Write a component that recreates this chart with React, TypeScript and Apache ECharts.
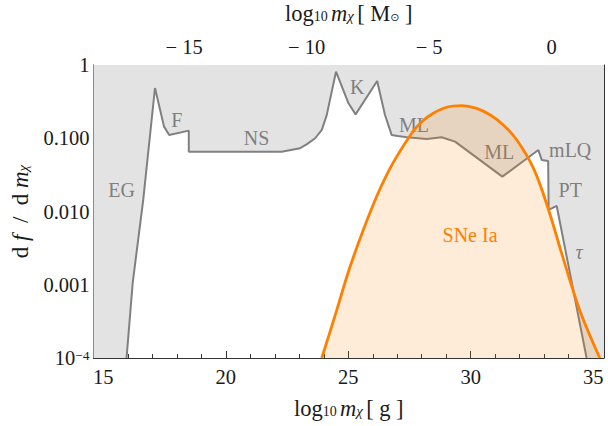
import React, { useEffect, useRef } from "react";
import * as echarts from "echarts";

// ---- data ----
const X_MIN = 14.6;
const X_MAX = 35.44;
const MSUN_LOG = 33.3; // log10 of a solar mass in grams

// upper envelope of constraints (gray line)
const grayX = [15.95, 16.2, 16.63, 17.11, 17.48, 17.69, 18.49, 18.49, 22.28, 23.03, 23.3, 23.65, 23.92, 24.12, 24.5, 25.01, 25.3, 26.18, 26.5, 26.77, 27.02, 27.52, 28.2, 28.81, 29.36, 31.29, 32.21, 32.76, 32.9, 33.16, 33.18, 33.51, 34.73];
const grayY = [1e-4, 0.00106, 0.0144, 0.485, 0.144, 0.111, 0.127, 0.0656, 0.0656, 0.073, 0.0826, 0.1, 0.13, 0.207, 0.81, 0.3, 0.212, 0.605, 0.208, 0.111, 0.107, 0.102, 0.098, 0.103, 0.0898, 0.0299, 0.0505, 0.069, 0.0505, 0.049, 0.0105, 0.0119, 1e-4];

// SNe Ia distribution (orange)
const snX = [23.92, 24.53, 25.07, 25.96, 26.71, 27.59, 28.0, 28.47, 29.02, 29.63, 30.24, 30.8, 31.33, 31.88, 32.56, 33.16, 33.71, 34.45, 35.27];
const snY = [1e-4, 0.00045, 0.00175, 0.0111, 0.039, 0.117, 0.168, 0.219, 0.265, 0.278, 0.256, 0.208, 0.152, 0.0946, 0.039, 0.011, 0.0027, 0.00045, 1e-4];

// region labels
const labelNames = ["EG", "F", "NS", "K", "ML", "ML", "mLQ", "PT", "τ"];
const labelItalic = [false, false, false, false, false, false, false, false, true];
const labelX = [15.75, 18.0, 21.26, 25.37, 27.68, 31.16, 34.06, 34.06, 34.42];
const labelY = [0.0197, 0.177, 0.1, 0.496, 0.152, 0.0655, 0.069, 0.0197, 0.00283];
const snLabel = ["SNe Ia"];
const snLabelX = [29.97];
const snLabelY = [0.00478];

// ticks
const xMajor = [15, 20, 25, 30, 35];
const xMinor = [15, 16, 17, 18, 19, 20, 21, 22, 23, 24, 25, 26, 27, 28, 29, 30, 31, 32, 33, 34, 35];
const topMajor = [-15, -10, -5, 0];
const topMinor = [-18, -17, -16, -15, -14, -13, -12, -11, -10, -9, -8, -7, -6, -5, -4, -3, -2, -1, 0, 1, 2];
const yMajor = [1e-4, 1e-3, 1e-2, 1e-1, 1];
const yTickLabels = ["{n|10}{sup|−4}", "0.001", "0.010", "0.100", "1"];
const yMinor = [2e-4, 3e-4, 4e-4, 5e-4, 6e-4, 7e-4, 8e-4, 9e-4, 2e-3, 3e-3, 4e-3, 5e-3, 6e-3, 7e-3, 8e-3, 9e-3, 0.02, 0.03, 0.04, 0.05, 0.06, 0.07, 0.08, 0.09, 0.2, 0.3, 0.4, 0.5, 0.6, 0.7, 0.8, 0.9];

const SERIF = "'Liberation Serif', 'Times New Roman', 'DejaVu Serif', serif";
const FRAME = "#333333";
const TXT = "#1a1a1a";
const TICK_FS = 20.5;

const nameRich = (fs: number) => ({
  a: { fontFamily: SERIF, fontSize: fs, color: TXT, lineHeight: 20 },
  i: { fontFamily: SERIF, fontSize: fs, fontStyle: "italic", color: TXT, lineHeight: 20 },
  b: { fontFamily: SERIF, fontSize: 14, color: TXT, lineHeight: 10, verticalAlign: "bottom" },
  o: { fontFamily: "'DejaVu Sans', sans-serif", fontSize: 11, color: TXT, lineHeight: 10, verticalAlign: "bottom" },
  c: { fontFamily: SERIF, fontSize: 15, fontStyle: "italic", color: TXT, lineHeight: 10, verticalAlign: "bottom" },
});

const textSeries = (names: string[], italic: boolean[], xs: number[], ys: number[], color: string, fs: number, z: number) => ({
  type: "custom",
  z,
  xAxisIndex: 0,
  yAxisIndex: 0,
  clip: false,
  silent: true,
  data: xs.map((x, k) => [x, ys[k]]),
  renderItem: (params: any, api: any) => {
    const p = api.coord([api.value(0), api.value(1)]);
    return {
      type: "text",
      x: p[0],
      y: p[1],
      style: {
        text: names[params.dataIndex],
        fill: color,
        fontSize: fs,
        fontFamily: SERIF,
        fontStyle: italic[params.dataIndex] ? "italic" : "normal",
        align: "center",
        verticalAlign: "middle",
      },
    };
  },
});

export default function App() {
  const ref = useRef<HTMLDivElement>(null);
  useEffect(() => {
    if (!ref.current) return;
    const chart = echarts.init(ref.current, null, { renderer: "svg" });
    const grayLine = grayX.map((x, k) => [x, grayY[k]]);
    const grayFill = [[X_MIN, 1e-4], ...grayLine, [X_MAX, 1e-4]];
    const sn = snX.map((x, k) => [x, snY[k]]);
    const tickStyle = { color: FRAME, width: 1 };
    const majorX = (pos: string, vals: number[], min: number, max: number, name: string, gap: number) => ({
      type: "value",
      position: pos,
      min,
      max,
      axisLine: { show: true, onZero: false, lineStyle: tickStyle },
      axisTick: { show: true, inside: true, length: 7, customValues: vals, lineStyle: tickStyle },
      axisLabel: {
        show: true,
        customValues: vals,
        fontFamily: SERIF,
        fontSize: TICK_FS,
        color: TXT,
        margin: 8,
        alignMinLabel: "center",
        alignMaxLabel: "center",
        formatter: (v: number) => (v < 0 ? "− " + Math.abs(v) : String(v)),
      },
      splitLine: { show: false },
      name,
      nameLocation: "middle",
      nameGap: gap,
      nameTextStyle: { rich: nameRich(22.5) },
    });
    const minorX = (pos: string, vals: number[], min: number, max: number) => ({
      type: "value",
      position: pos,
      min,
      max,
      axisLine: { show: false, onZero: false },
      axisTick: { show: true, inside: true, length: 4, customValues: vals, lineStyle: tickStyle },
      axisLabel: { show: false },
      splitLine: { show: false },
    });
    const yAx = (pos: string, vals: number[], len: number, labels: boolean, line: boolean, name?: string) => ({
      type: "log",
      logBase: 10,
      position: pos,
      min: 1e-4,
      max: 1,
      axisLine: { show: line, onZero: false, lineStyle: tickStyle },
      axisTick: { show: true, inside: true, length: len, customValues: vals, lineStyle: tickStyle },
      axisLabel: labels
        ? {
            show: true,
            customValues: vals,
            fontFamily: SERIF,
            fontSize: TICK_FS,
            color: TXT,
            margin: 4,
            verticalAlignMinLabel: "middle",
            verticalAlignMaxLabel: "middle",
            formatter: (v: number) => yTickLabels[yMajor.findIndex((m) => Math.abs(Math.log10(m) - Math.log10(v)) < 1e-6)] ?? "",
            rich: {
              n: { fontFamily: SERIF, fontSize: TICK_FS, color: TXT, lineHeight: 20 },
              sup: { fontFamily: SERIF, fontSize: 13.5, color: TXT, lineHeight: 12, verticalAlign: "top" },
            },
          }
        : { show: false },
      splitLine: { show: false },
      minorTick: { show: false },
      name,
      nameLocation: "middle",
      nameGap: 63,
      nameRotate: 90,
      nameTextStyle: { rich: nameRich(23) },
    });

    chart.setOption({
      animation: false,
      backgroundColor: "#ffffff",
      grid: { left: 93.5, top: 65, width: 510.5, height: 293, containLabel: false, outerBoundsMode: "none" },
      xAxis: [
        majorX("bottom", xMajor, X_MIN, X_MAX, "{a|log}{b|10} {i|m}{c|χ} {a|[ g ]}", 40),
        minorX("bottom", xMinor, X_MIN, X_MAX),
        majorX("top", topMajor, X_MIN - MSUN_LOG, X_MAX - MSUN_LOG, "{a|log}{b|10} {i|m}{c|χ} {a|[ M}{o|⊙}{a| ]}", 42),
        minorX("top", topMinor, X_MIN - MSUN_LOG, X_MAX - MSUN_LOG),
      ],
      yAxis: [
        yAx("left", yMajor, 7, true, true, "{a|d }{i|f}{a|  /  d }{i|m}{c|χ}"),
        yAx("left", yMinor, 4, false, false),
        yAx("right", yMajor, 7, false, true),
        yAx("right", yMinor, 4, false, false),
      ],
      series: [
        {
          type: "line",
          z: 1,
          xAxisIndex: 0,
          yAxisIndex: 0,
          data: grayFill,
          showSymbol: false,
          lineStyle: { width: 0, opacity: 0 },
          areaStyle: { origin: "end", color: "#e3e3e3", opacity: 1 },
          silent: true,
        },
        {
          type: "line",
          z: 2,
          xAxisIndex: 0,
          yAxisIndex: 0,
          data: grayLine,
          showSymbol: false,
          lineStyle: { width: 2, color: "#808080" },
          silent: true,
        },
        textSeries(labelNames, labelItalic, labelX, labelY, "#7f7f7f", 20, 3),
        {
          type: "line",
          z: 4,
          xAxisIndex: 0,
          yAxisIndex: 0,
          data: sn,
          smooth: 0.35,
          showSymbol: false,
          lineStyle: { width: 2.8, color: "#ff8000" },
          areaStyle: { origin: "start", color: "rgba(255,128,0,0.22)" },
          silent: true,
        },
        textSeries(snLabel, [false], snLabelX, snLabelY, "#ff8000", 20, 5),
      ],
    });
    return () => chart.dispose();
  }, []);
  return <div ref={ref} style={{ position: "fixed", left: 0, top: 0, width: 608, height: 426 }} />;
}
